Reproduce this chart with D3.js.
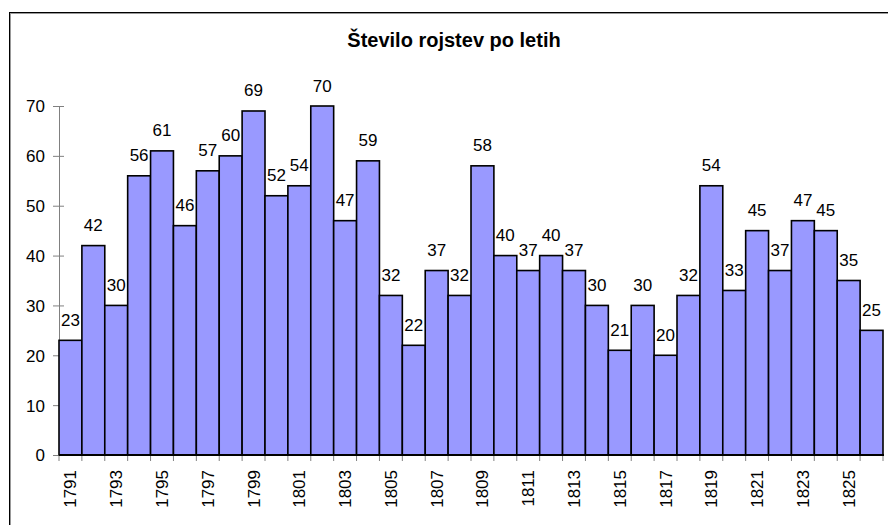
<!DOCTYPE html>
<html>
<head>
<meta charset="utf-8">
<script src="https://cdn.jsdelivr.net/npm/d3@7"></script>
<style>
  body { margin: 0; background: #fff; }
  svg text { font-family: Arial, "Liberation Sans", sans-serif; }
</style>
</head>
<body>
<svg id="chart" width="888" height="525"></svg>
<script>
// data
var years = d3.range(1791, 1827).map(String);
var births = [23, 42, 30, 56, 61, 46, 57, 60, 69, 52, 54, 70, 47, 59, 32, 22, 37, 32,
              58, 40, 37, 40, 37, 30, 21, 30, 20, 32, 54, 33, 45, 37, 47, 45, 35, 25];
var yTicks = [0, 10, 20, 30, 40, 50, 60, 70];
var chartTitle = "Število rojstev po letih";

var svg = d3.select("#chart");

// outer chart border (runs off the right/bottom edge)
svg.append("rect")
    .attr("x", 10.5).attr("y", 13.5)
    .attr("width", 900).attr("height", 540)
    .attr("fill", "none").attr("stroke", "#999").attr("stroke-width", 1);
svg.append("rect")
    .attr("x", 9.5).attr("y", 12.5)
    .attr("width", 900).attr("height", 540)
    .attr("fill", "none").attr("stroke", "#000").attr("stroke-width", 1);

svg.append("text")
    .attr("x", 454).attr("y", 47)
    .attr("text-anchor", "middle")
    .style("font-size", "20px").style("font-weight", "bold")
    .text(chartTitle);

var x = d3.scaleBand().domain(years).range([59, 883]).padding(0);
var y = d3.scaleLinear().domain([0, 70]).range([455, 106]);

// y axis (ticks cross the axis line)
var yAxis = svg.append("g")
    .attr("transform", "translate(59,0)")
    .call(d3.axisLeft(y).tickValues(yTicks).tickSize(6).tickPadding(8).tickSizeOuter(0));
yAxis.select(".domain").attr("stroke", "#808080");
yAxis.selectAll(".tick line").attr("stroke", "#808080").attr("x2", 5).attr("x1", -6);
yAxis.selectAll("text").attr("fill", "#000").style("font-size", "17px")
    .style("font-family", "Arial, 'Liberation Sans', sans-serif").attr("dy", "0.35em");

// bars
svg.selectAll(".bar")
    .data(births)
    .enter().append("rect")
    .attr("class", "bar")
    .attr("x", function (d, i) { return x(years[i]); })
    .attr("width", x.bandwidth())
    .attr("y", function (d) { return y(d); })
    .attr("height", function (d) { return y(0) - y(d); })
    .attr("fill", "#9999ff")
    .attr("stroke", "#000")
    .attr("stroke-width", 1.6);

// value labels
svg.selectAll(".lbl")
    .data(births)
    .enter().append("text")
    .attr("class", "lbl")
    .attr("x", function (d, i) { return x(years[i]) + x.bandwidth() / 2; })
    .attr("y", function (d) { return y(d) - 14.5; })
    .attr("text-anchor", "middle")
    .style("font-size", "17px")
    .text(function (d) { return d; });

// x axis: ticks at band edges, labels every other year
var edges = years.map(function (yr) { return x(yr); }).concat([x.range()[1]]);
svg.selectAll(".xtick")
    .data(edges)
    .enter().append("line")
    .attr("class", "xtick")
    .attr("x1", function (d) { return d; }).attr("x2", function (d) { return d; })
    .attr("y1", 455).attr("y2", 461)
    .attr("stroke", "#808080");

svg.append("line")
    .attr("x1", 59).attr("x2", 884)
    .attr("y1", 455).attr("y2", 455)
    .attr("stroke", "#000").attr("stroke-width", 2);

svg.selectAll(".xlbl")
    .data(years.filter(function (d, i) { return i % 2 === 0; }))
    .enter().append("text")
    .attr("class", "xlbl")
    .attr("transform", function (d) {
        return "translate(" + (x(d) + x.bandwidth() / 2 + 6) + ",470) rotate(-90)";
    })
    .attr("text-anchor", "end")
    .style("font-size", "17px")
    .text(function (d) { return d; });
</script>
</body>
</html>
